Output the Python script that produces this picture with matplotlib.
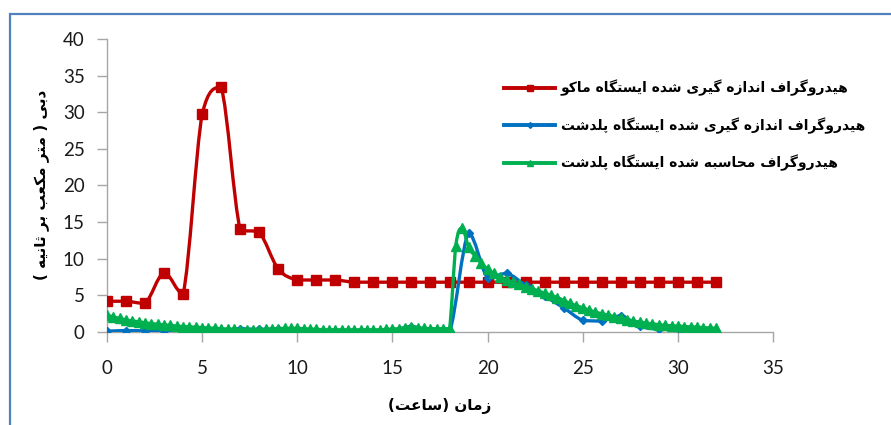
import numpy as np
import matplotlib
matplotlib.use("Agg")
import matplotlib.pyplot as plt
from matplotlib.path import Path
from matplotlib.patches import PathPatch, Rectangle
from matplotlib.lines import Line2D

# ---------------------------------------------------------------- data
hours = list(range(33))

mako_measured = [4.2, 4.2, 3.9, 8.1, 5.2, 29.7, 33.4, 14.0, 13.6, 8.6, 7.1, 7.1, 7.1,
                 6.8, 6.8, 6.8, 6.8, 6.8, 6.8, 6.8, 6.8, 6.8, 6.8, 6.8, 6.8, 6.8,
                 6.8, 6.8, 6.8, 6.8, 6.8, 6.8, 6.8]

poldasht_measured = [0.1, 0.2, 0.15, 0.1, 0.1, 0.15, 0.2, 0.45, 0.35, 0.45, 0.4, 0.1,
                     0.1, 0.1, 0.1, 0.2, 0.75, 0.05, 0.0, 13.5, 7.4, 8.0, 6.4, 4.9,
                     3.3, 1.6, 1.5, 2.2, 0.8, 0.4, 0.5, 0.4, 0.2]

# computed hydrograph is reported every 20 minutes
computed_time = np.arange(97) / 3.0
poldasht_computed = [
    2.3, 2.05, 1.85, 1.65, 1.5, 1.4, 1.25, 1.15, 1.05, 0.95, 0.9, 0.8,
    0.75, 0.7, 0.65, 0.6, 0.55, 0.5, 0.45, 0.4, 0.35, 0.3, 0.3, 0.3,
    0.3, 0.35, 0.4, 0.45, 0.5, 0.5, 0.5, 0.45, 0.4, 0.35, 0.3, 0.3,
    0.3, 0.3, 0.3, 0.3, 0.3, 0.3, 0.3, 0.3, 0.35, 0.4, 0.45, 0.55,
    0.7, 0.6, 0.5, 0.45, 0.45, 0.45, 0.45, 11.8, 14.2, 11.6, 10.4, 9.4,
    8.6, 8.0, 7.5, 7.1, 6.8, 6.5, 6.2, 5.9, 5.6, 5.3, 5.0, 4.7,
    4.3, 3.9, 3.6, 3.3, 3.0, 2.7, 2.5, 2.3, 2.1, 1.9, 1.7, 1.5,
    1.35, 1.2, 1.1, 1.0, 0.9, 0.85, 0.8, 0.75, 0.7, 0.65, 0.6, 0.55,
    0.5]

label_mako = "هیدروگراف اندازه گیری شده ایستگاه ماکو"
label_pold = "هیدروگراف اندازه گیری شده ایستگاه پلدشت"
label_comp = "هیدروگراف محاسبه شده ایستگاه پلدشت"
x_title = "زمان (ساعت)"
y_title = "دبی ( متر مکعب بر ثانیه )"

x_ticks = [0, 5, 10, 15, 20, 25, 30, 35]
y_ticks = [0, 5, 10, 15, 20, 25, 30, 35, 40]

# ---------------------------------------------------- persian shaping
# isolated, final, initial, medial presentation forms
FORMS = {
    "ا": ("\uFE8D", "\uFE8E", None, None),
    "ب": ("\uFE8F", "\uFE90", "\uFE91", "\uFE92"),
    "پ": ("\uFB56", "\uFB57", "\uFB58", "\uFB59"),
    "ت": ("\uFE95", "\uFE96", "\uFE97", "\uFE98"),
    "ث": ("\uFE99", "\uFE9A", "\uFE9B", "\uFE9C"),
    "ح": ("\uFEA1", "\uFEA2", "\uFEA3", "\uFEA4"),
    "د": ("\uFEA9", "\uFEAA", None, None),
    "ر": ("\uFEAD", "\uFEAE", None, None),
    "ز": ("\uFEAF", "\uFEB0", None, None),
    "س": ("\uFEB1", "\uFEB2", "\uFEB3", "\uFEB4"),
    "ش": ("\uFEB5", "\uFEB6", "\uFEB7", "\uFEB8"),
    "ع": ("\uFEC9", "\uFECA", "\uFECB", "\uFECC"),
    "ف": ("\uFED1", "\uFED2", "\uFED3", "\uFED4"),
    "ک": ("\uFB8E", "\uFB8F", "\uFB90", "\uFB91"),
    "گ": ("\uFB92", "\uFB93", "\uFB94", "\uFB95"),
    "ل": ("\uFEDD", "\uFEDE", "\uFEDF", "\uFEE0"),
    "م": ("\uFEE1", "\uFEE2", "\uFEE3", "\uFEE4"),
    "ن": ("\uFEE5", "\uFEE6", "\uFEE7", "\uFEE8"),
    "ه": ("\uFEE9", "\uFEEA", "\uFEEB", "\uFEEC"),
    "و": ("\uFEED", "\uFEEE", None, None),
    "ی": ("\uFBFC", "\uFBFD", "\uFBFE", "\uFBFF"),
}
MIRROR = {"(": ")", ")": "("}


def rtl(text):
    out = []
    n = len(text)
    for i, ch in enumerate(text):
        if ch not in FORMS:
            out.append(ch)
            continue
        prev = text[i - 1] if i > 0 else ""
        nxt = text[i + 1] if i < n - 1 else ""
        joins_prev = prev in FORMS and FORMS[prev][2] is not None
        joins_next = FORMS[ch][2] is not None and nxt in FORMS
        iso, fin, ini, med = FORMS[ch]
        if joins_prev and joins_next:
            out.append(med)
        elif joins_prev:
            out.append(fin)
        elif joins_next:
            out.append(ini)
        else:
            out.append(iso)
    return "".join(MIRROR.get(c, c) for c in reversed(out))


# ------------------------------------------------------ smooth lines
def smooth_path(xs, ys, k=1.0 / 6.0):
    """Bezier through the points; control heights are kept inside each
    segment's own range so the curve never overshoots a point."""
    pts = np.column_stack([np.asarray(xs, float), np.asarray(ys, float)])
    verts = [pts[0]]
    codes = [Path.MOVETO]
    n = len(pts)
    for i in range(n - 1):
        p0 = pts[i - 1] if i > 0 else pts[i]
        p1 = pts[i]
        p2 = pts[i + 1]
        p3 = pts[i + 2] if i + 2 < n else pts[i + 1]
        c1 = p1 + (p2 - p0) * k
        c2 = p2 - (p3 - p1) * k
        lo, hi = min(p1[1], p2[1]), max(p1[1], p2[1])
        c1[1] = np.clip(c1[1], lo, hi)
        c2[1] = np.clip(c2[1], lo, hi)
        verts += [c1, c2, p2]
        codes += [Path.CURVE4] * 3
    return Path(verts, codes)


# ------------------------------------------------------------ figure
W, H = 891, 425
fig = plt.figure(figsize=(W / 100, H / 100), dpi=100)
ax = fig.add_axes([107 / W, 1 - 332 / H, 666 / W, 293 / H])

red = "#C00000"
blue = "#0070C0"
green = "#00B050"

series = [
    (hours, mako_measured, red, "s", 6.5, label_mako, 3),
    (hours, poldasht_measured, blue, "D", 4.5, label_pold, 4),
    (computed_time, poldasht_computed, green, "^", 7.0, label_comp, 5),
]

handles = []
for xs, ys, col, mk, ms, lab, z in series:
    ax.add_patch(PathPatch(smooth_path(xs, ys), facecolor="none", edgecolor=col,
                           lw=2.4, zorder=z, capstyle="round", joinstyle="round"))
    ax.plot(xs, ys, linestyle="none", marker=mk, ms=ms, color=col,
            markeredgecolor=col, zorder=z + 0.5)
    handles.append(Line2D([], [], color=col, lw=2.8, marker=mk, ms=ms * 0.65,
                          label=rtl(lab)))

ax.set_xlim(0, 35)
ax.set_ylim(0, 40)
ax.set_xticks(x_ticks)
ax.set_yticks(y_ticks)
for s in ("top", "right"):
    ax.spines[s].set_visible(False)
for s in ("left", "bottom"):
    ax.spines[s].set_color("#A6A6A6")
    ax.spines[s].set_linewidth(1.0)
ax.tick_params(axis="both", direction="out", length=7, width=1.0, color="#A6A6A6",
               labelsize=13.5, labelcolor="#1a1a1a")
ax.tick_params(axis="y", pad=9)
ax.tick_params(axis="x", pad=13)
for t in ax.get_xticklabels() + ax.get_yticklabels():
    t.set_fontfamily("Lato")

ax.set_xlabel(rtl(x_title), fontfamily="DejaVu Sans", fontweight="bold",
              fontsize=11, labelpad=15)
fig.text(41 / W, 1 - 185 / H, rtl(y_title), rotation=90, ha="center",
         va="center", fontfamily="DejaVu Sans", fontweight="bold", fontsize=11)

leg = ax.legend(handles=handles, loc="upper left",
                bbox_to_anchor=(504 / W, 1 - 80 / H), bbox_transform=fig.transFigure,
                frameon=False, borderpad=0, borderaxespad=0, handlelength=3.7,
                handletextpad=0.4, labelspacing=1.5,
                prop={"family": "DejaVu Sans", "weight": "bold", "size": 10})

# chart-area frame
fig.patches.append(Rectangle((10 / W, -0.2), 1.2, 1.2 - 14 / H, transform=fig.transFigure,
                             facecolor="none", edgecolor="#4F81BD", lw=1.6,
                             clip_on=False))

fig.savefig("out.png", dpi=100)
